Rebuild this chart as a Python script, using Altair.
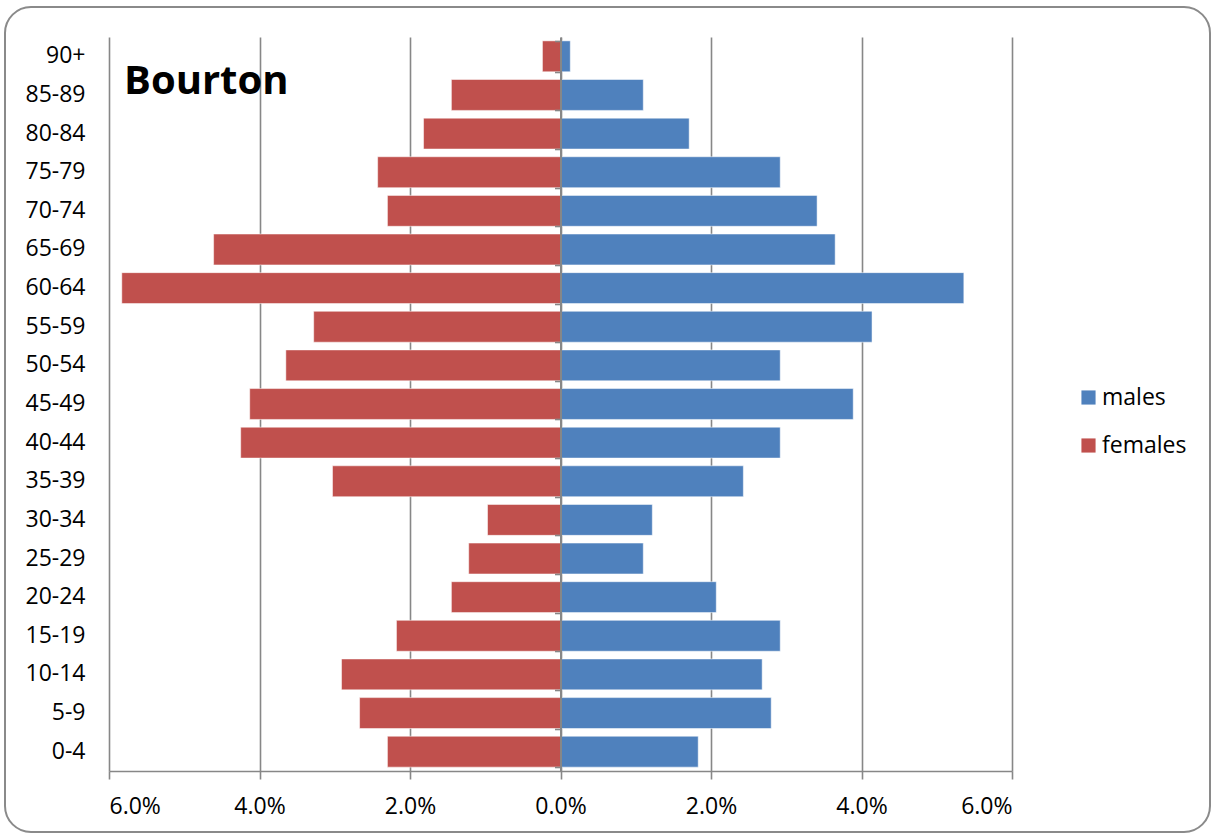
import altair as alt
import pandas as pd

# Age bands, oldest at the top
ages = ["90+", "85-89", "80-84", "75-79", "70-74", "65-69", "60-64", "55-59",
        "50-54", "45-49", "40-44", "35-39", "30-34", "25-29", "20-24", "15-19",
        "10-14", "5-9", "0-4"]

# Share of population (%) per age band
males = [0.13, 1.10, 1.71, 2.92, 3.41, 3.65, 5.36, 4.14, 2.92, 3.89,
         2.92, 2.43, 1.22, 1.10, 2.07, 2.92, 2.68, 2.80, 1.83]
females = [0.24, 1.45, 1.82, 2.43, 2.30, 4.61, 5.83, 3.28, 3.65, 4.13,
           4.25, 3.03, 0.97, 1.22, 1.45, 2.18, 2.91, 2.67, 2.30]

x_ticks = [-6, -4, -2, 0, 2, 4, 6]
sexes = ["males", "females"]
colors = ["#4F81BD", "#C0504D"]
place = "Bourton"

rows = []
for a, m, f in zip(ages, males, females):
    rows.append({"age": a, "sex": "males", "value": m})
    rows.append({"age": a, "sex": "females", "value": -f})
df = pd.DataFrame(rows)

FONT = "Open Sans"
GRID = "#878787"

x_scale = alt.Scale(domain=[-6, 6], nice=False)
y_scale = alt.Scale(paddingInner=0.2, paddingOuter=0.1)

x_axis = alt.Axis(values=x_ticks, grid=True, gridColor=GRID, gridWidth=1.6,
                  domainColor=GRID, domainWidth=1.6, tickColor=GRID,
                  tickWidth=1.6, tickSize=8, labelFontSize=23,
                  labelFont=FONT, labelColor="#000000", labelPadding=16,
                  labelExpr="format(abs(datum.value), '.1f') + '%'",
                  title=None)

bars = alt.Chart(df).mark_bar(
    stroke="#ffffff", strokeWidth=1, strokeOpacity=0.5
).encode(
    x=alt.X("value:Q", scale=x_scale, axis=x_axis),
    y=alt.Y("age:N", sort=ages, scale=y_scale,
            axis=alt.Axis(orient="left", domain=False, ticks=False, grid=False,
                          labelFontSize=23, labelFont=FONT, labelColor="#000000",
                          labelPadding=24, title=None)),
    color=alt.Color("sex:N", scale=alt.Scale(domain=sexes, range=colors),
                    legend=alt.Legend(orient="none", legendX=968, legendY=349,
                                      title=None, symbolType="square",
                                      symbolSize=200, symbolStrokeWidth=0,
                                      labelFontSize=23, labelFont=FONT,
                                      labelColor="#000000", labelOffset=2,
                                      rowPadding=24)),
)

# Vertical axis through zero, with ticks on the band boundaries
zero_axis = alt.Chart(df).mark_point(opacity=0).encode(
    x=alt.X("value:Q", scale=x_scale, axis=x_axis),
    y=alt.Y("age:N", sort=ages, scale=y_scale,
            axis=alt.Axis(orient="left", offset=-451.5, labels=False, grid=False,
                          domain=True, domainColor=GRID, domainWidth=2,
                          ticks=True, tickBand="extent", tickColor=GRID,
                          tickWidth=1.6, tickSize=6, title=None, zindex=1)),
)

title = alt.Chart(pd.DataFrame({"t": [place]})).mark_text(
    font=FONT, fontSize=40, fontWeight="bold", align="left",
    baseline="alphabetic", color="#000000"
).encode(text="t:N", x=alt.value(15), y=alt.value(57))

# Rounded frame around the whole chart
frame = alt.Chart(pd.DataFrame({"t": [0]})).mark_rect(
    fillOpacity=0, stroke="#8a8a8a", strokeWidth=2, cornerRadius=26
).encode(x=alt.value(-104), x2=alt.value(1101), y=alt.value(-30), y2=alt.value(795))

chart = alt.layer(frame, bars, zero_axis, title).resolve_axis(
    y="independent"
).properties(
    width=903, height=734,
    autosize=alt.AutoSizeParams(type="none"),
    padding={"left": 109, "top": 37, "right": 200, "bottom": 63},
    background="#ffffff",
).configure_view(stroke=None)

chart.save("out.html", embed_options={"renderer": "svg", "actions": False})
